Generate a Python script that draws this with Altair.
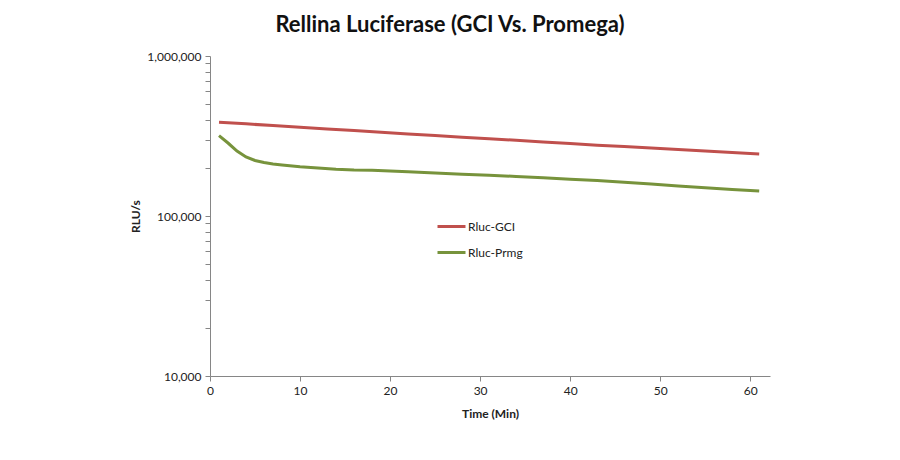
import altair as alt
import pandas as pd

# Rluc-GCI series (time in min, RLU/s)
gci_time = [1, 4, 7, 10, 13, 16, 19, 22, 25, 28, 31, 34, 37, 40, 43, 46, 49, 52, 55, 58, 61]
gci_rlu = [385000, 376600, 367300, 358900, 350000, 342000, 334000, 325800, 318600, 311000,
           304100, 297200, 290500, 283900, 277000, 271500, 266100, 260800, 254700, 249300, 244100]

# Rluc-Prmg series
prmg_time = [1, 2, 3, 4, 5, 6, 7, 8, 10, 12, 14, 16, 18, 20, 22, 25, 28, 31, 34, 37, 40,
             43, 46, 49, 52, 55, 58, 61]
prmg_rlu = [317700, 285900, 254700, 233700, 222300, 216000, 211300, 208300, 203000, 199500,
            196100, 193900, 193100, 191000, 188800, 185700, 182500, 179600, 176700, 173100,
            169800, 166400, 162500, 158300, 154200, 150400, 146600, 143200]

series_names = ["Rluc-GCI", "Rluc-Prmg"]
series_colors = ["#C0504D", "#77933C"]

x_ticks = [0, 10, 20, 30, 40, 50, 60]
y_ticks = [m * 10 ** e for e in (4, 5) for m in range(1, 10)] + [1000000]

df = pd.DataFrame(
    {"time": gci_time + prmg_time,
     "rlu": gci_rlu + prmg_rlu,
     "series": [series_names[0]] * len(gci_time) + [series_names[1]] * len(prmg_time)}
)

FONT = "Lato"

chart = alt.Chart(df).mark_line(strokeWidth=3).encode(
    x=alt.X("time:Q",
            scale=alt.Scale(domain=[0, 62.2], nice=False, zero=False),
            axis=alt.Axis(values=x_ticks, title="Time (Min)", grid=False,
                          domainColor="#868686", tickColor="#868686", tickSize=5,
                          labelFont=FONT, labelFontSize=12, labelColor="#222222",
                          labelPadding=4, labelFlush=False,
                          titleFont=FONT, titleFontSize=12, titleFontWeight="bold",
                          titleColor="#222222", titleY=37, titleBaseline="middle")),
    y=alt.Y("rlu:Q",
            scale=alt.Scale(type="log", domain=[10000, 1000000], nice=False),
            axis=alt.Axis(values=y_ticks, title="RLU/s", grid=False,
                          labelExpr="datum.value == 10000 || datum.value == 100000 || datum.value == 1000000 ? format(datum.value, ',') : ''",
                          domainColor="#868686", tickColor="#868686", tickSize=5,
                          labelFont=FONT, labelFontSize=12, labelColor="#222222",
                          labelPadding=4, labelFlush=False,
                          titleFont=FONT, titleFontSize=12, titleFontWeight="bold",
                          titleColor="#222222", titleX=-75, titleY=160,
                          titleAngle=270, titleAlign="center", titleBaseline="middle")),
    color=alt.Color("series:N",
                    scale=alt.Scale(domain=series_names, range=series_colors),
                    legend=alt.Legend(title=None, orient="none", legendX=226, legendY=155,
                                      symbolType="stroke", symbolSize=784, symbolStrokeWidth=3,
                                      labelFont=FONT, labelFontSize=12, labelColor="#222222",
                                      labelOffset=1, rowPadding=4)),
).properties(
    width=560,
    height=320,
    background="white",
    title=alt.TitleParams("Rellina Luciferase (GCI Vs. Promega)", font=FONT, fontSize=22,
                          fontWeight="bold", color="#111111", anchor="middle", dx=-40,
                          offset=13),
    padding={"left": 202, "top": 48, "right": 60, "bottom": 70},
    autosize=alt.AutoSizeParams(type="none"),
).configure_view(stroke=None)

chart.save("out.html", embed_options={"renderer": "svg", "actions": False})
